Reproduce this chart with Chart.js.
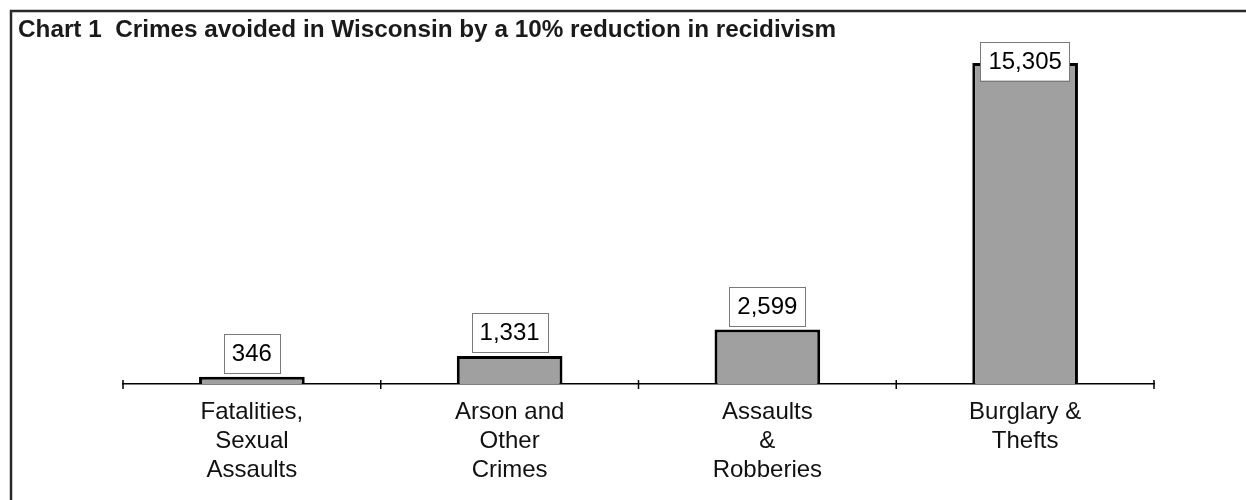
<!DOCTYPE html>
<html>
<head>
<meta charset="utf-8">
<title>Chart 1 Crimes avoided in Wisconsin</title>
<script src="https://cdn.jsdelivr.net/npm/chart.js@4.4.1/dist/chart.umd.min.js"></script>
<style>
    html, body { margin: 0; padding: 0; background: #fff; }
    #wrap { position: relative; width: 1246px; height: 500px; }
</style>
</head>
<body>
<div id="wrap"><canvas id="crimesChart" width="1246" height="500"></canvas></div>
<script>
// Chart data
const chartTitle = 'Chart 1  Crimes avoided in Wisconsin by a 10% reduction in recidivism';
const categories = [
    ['Fatalities,', 'Sexual', 'Assaults'],
    ['Arson and', 'Other', 'Crimes'],
    ['Assaults', '&', 'Robberies'],
    ['Burglary &', 'Thefts']
];
const crimesAvoided = [346, 1331, 2599, 15305];
const yMax = 16000;

const FONT = 'Arial, "Liberation Sans", sans-serif';

// Frame lines and title, drawn before the chart
const framePlugin = {
    id: 'frame',
    beforeDraw(chart) {
        const ctx = chart.ctx;
        ctx.save();
        ctx.strokeStyle = '#2a2a2a';
        ctx.lineWidth = 2.5;
        ctx.beginPath();
        ctx.moveTo(11, 500);
        ctx.lineTo(11, 11);
        ctx.lineTo(1246, 11);
        ctx.stroke();

        ctx.fillStyle = '#1a1a1a';
        ctx.font = 'bold 24.3px ' + FONT;
        ctx.textBaseline = 'alphabetic';
        ctx.textAlign = 'left';
        ctx.fillText(chartTitle, 18, 37);
        ctx.restore();
    }
};

// Tick marks between categories, crossing the axis line
const tickPlugin = {
    id: 'crossTicks',
    afterDraw(chart) {
        const ctx = chart.ctx;
        const x = chart.scales.x;
        const axisY = chart.chartArea.bottom;
        ctx.save();
        ctx.strokeStyle = '#000';
        ctx.lineWidth = 1.5;
        for (let i = 0; i <= categories.length; i++) {
            const px = x.getPixelForValue(i - 0.5);
            ctx.beginPath();
            ctx.moveTo(px, axisY - 4);
            ctx.lineTo(px, axisY + 5);
            ctx.stroke();
        }
        ctx.restore();
    }
};

// Boxed value labels above each bar
const boxLabelPlugin = {
    id: 'boxLabels',
    afterDatasetsDraw(chart) {
        const ctx = chart.ctx;
        const meta = chart.getDatasetMeta(0);
        const boxH = 39;
        ctx.save();
        ctx.font = '24px ' + FONT;
        ctx.textAlign = 'center';
        ctx.textBaseline = 'middle';
        meta.data.forEach((bar, i) => {
            const text = crimesAvoided[i].toLocaleString('en-US');
            const w = ctx.measureText(text).width + 16;
            let top = bar.y - 4 - boxH;
            if (top < chart.chartArea.top - 7) top = chart.chartArea.top - 7;
            const left = bar.x - w / 2;
            ctx.fillStyle = '#fff';
            ctx.fillRect(left, top, w, boxH);
            ctx.strokeStyle = '#7a7a7a';
            ctx.lineWidth = 1;
            ctx.strokeRect(Math.round(left) + 0.5, Math.round(top) + 0.5, Math.round(w), boxH);
            ctx.fillStyle = '#000';
            ctx.fillText(text, bar.x, top + boxH / 2 + 1);
        });
        ctx.restore();
    }
};

function renderCrimesChart(canvasId) {
    const ctx = document.getElementById(canvasId).getContext('2d');

    new Chart(ctx, {
        type: 'bar',
        data: {
            labels: categories,
            datasets: [{
                label: 'Crimes avoided',
                data: crimesAvoided,
                backgroundColor: '#a0a0a0',
                borderColor: '#000',
                borderWidth: 3,
                borderSkipped: 'start',
                barPercentage: 0.41,
                categoryPercentage: 1
            }]
        },
        options: {
            responsive: false,
            animation: false,
            layout: {
                padding: { left: 123, right: 92, top: 48.5, bottom: 9.6 }
            },
            plugins: {
                legend: { display: false },
                title: { display: false },
                tooltip: { enabled: false }
            },
            scales: {
                x: {
                    grid: { display: false },
                    border: { display: true, color: '#000', width: 1.5 },
                    ticks: {
                        color: '#111',
                        padding: 6,
                        maxRotation: 0,
                        minRotation: 0,
                        font: { family: FONT, size: 24, lineHeight: 1.2 }
                    }
                },
                y: {
                    display: false,
                    min: 0,
                    max: yMax
                }
            }
        },
        plugins: [framePlugin, tickPlugin, boxLabelPlugin]
    });
}

renderCrimesChart('crimesChart');
</script>
</body>
</html>
